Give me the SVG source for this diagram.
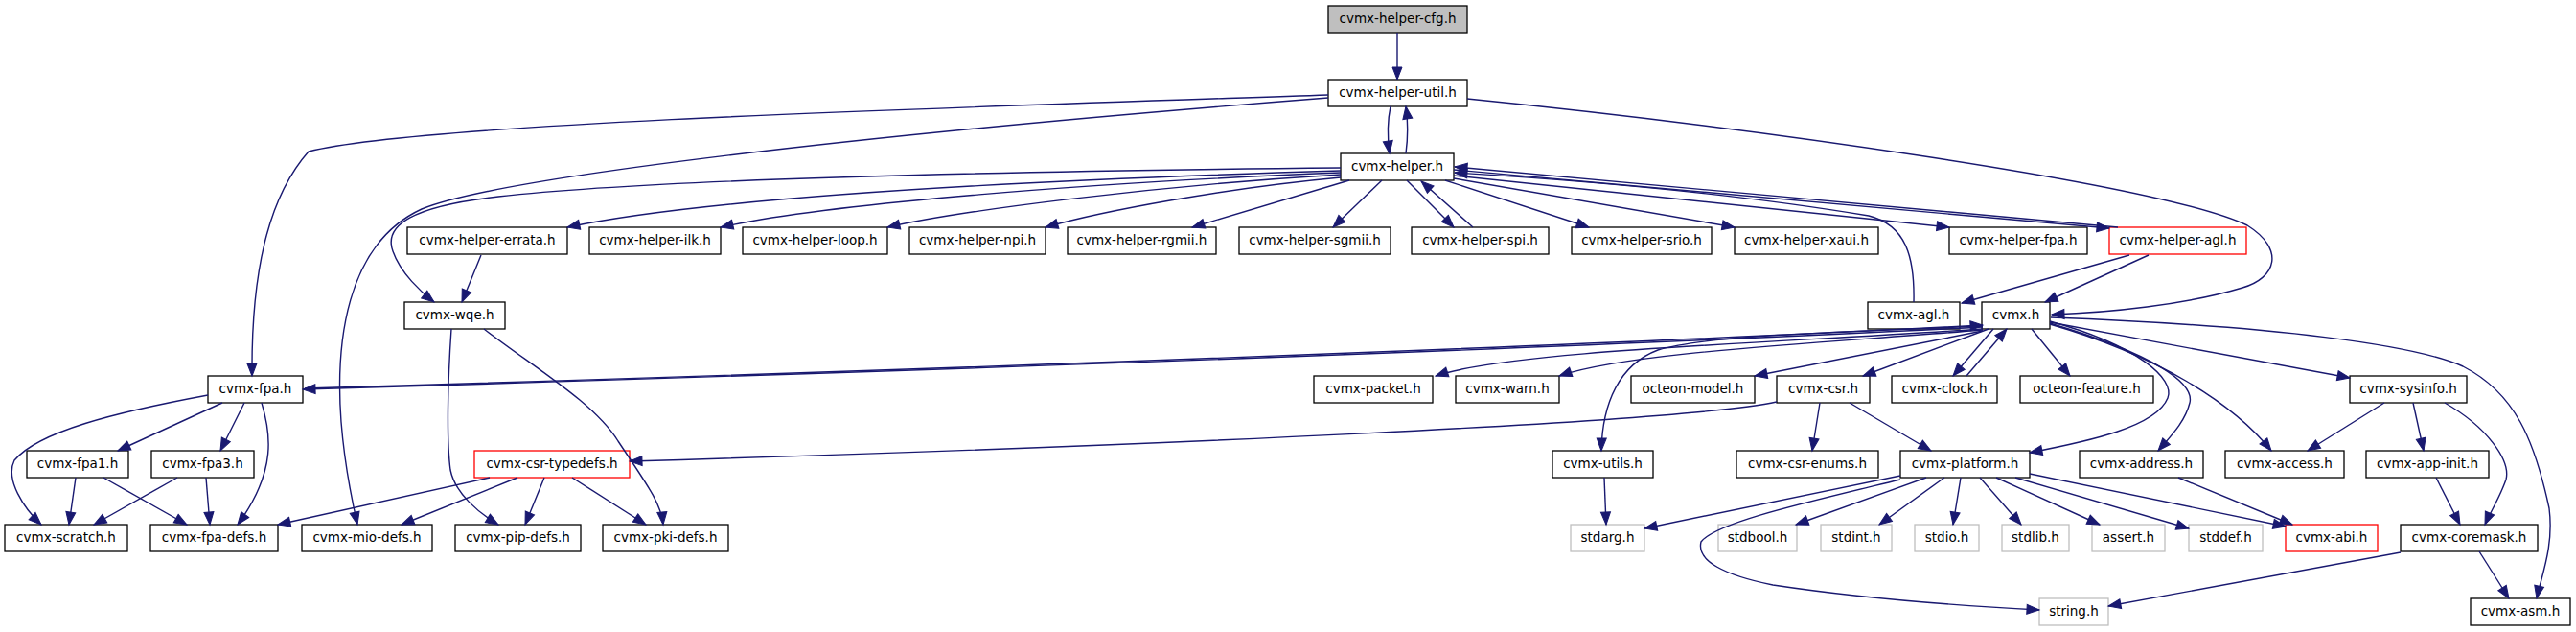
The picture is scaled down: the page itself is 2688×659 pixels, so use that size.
<svg xmlns="http://www.w3.org/2000/svg" width="2688" height="659" viewBox="0 0 2688 659">
<defs>
<style>
.n rect{fill:#fff;stroke:#000;stroke-width:1.3}
.n.gr rect{stroke:#bfbfbf}
.n.rd rect{stroke:#ff0000}
.n.cur rect{fill:#bfbfbf}
.n text{font-family:"DejaVu Sans",sans-serif;font-size:13.5px;text-anchor:middle;fill:#000}
#edges path{fill:none;stroke:#191970;stroke-width:1.4;marker-end:url(#a)}
</style>
<marker id="a" markerUnits="userSpaceOnUse" markerWidth="14" markerHeight="11" refX="13" refY="5" orient="auto" overflow="visible">
<path d="M0,0 L13,5 L0,10 z" fill="#191970" stroke="#191970" stroke-width="1"/>
</marker>
</defs>
<rect width="2688" height="659" fill="#fff"/>
<g id="nodes">
<g id="n-cfg" class="n cur"><rect x="1386" y="6" width="145" height="28"/><text x="1458.5" y="24">cvmx-helper-cfg.h</text></g>
<g id="n-util" class="n"><rect x="1386" y="83" width="145" height="28"/><text x="1458.5" y="101">cvmx-helper-util.h</text></g>
<g id="n-helper" class="n"><rect x="1399" y="160" width="118" height="28"/><text x="1458" y="178">cvmx-helper.h</text></g>
<g id="n-errata" class="n"><rect x="425" y="237" width="167" height="28"/><text x="508.5" y="255">cvmx-helper-errata.h</text></g>
<g id="n-ilk" class="n"><rect x="615" y="237" width="137" height="28"/><text x="683.5" y="255">cvmx-helper-ilk.h</text></g>
<g id="n-loop" class="n"><rect x="775" y="237" width="151" height="28"/><text x="850.5" y="255">cvmx-helper-loop.h</text></g>
<g id="n-npi" class="n"><rect x="949" y="237" width="142" height="28"/><text x="1020" y="255">cvmx-helper-npi.h</text></g>
<g id="n-rgmii" class="n"><rect x="1114" y="237" width="155" height="28"/><text x="1191.5" y="255">cvmx-helper-rgmii.h</text></g>
<g id="n-sgmii" class="n"><rect x="1293" y="237" width="158" height="28"/><text x="1372" y="255">cvmx-helper-sgmii.h</text></g>
<g id="n-spi" class="n"><rect x="1473" y="237" width="143" height="28"/><text x="1544.5" y="255">cvmx-helper-spi.h</text></g>
<g id="n-srio" class="n"><rect x="1640" y="237" width="146" height="28"/><text x="1713" y="255">cvmx-helper-srio.h</text></g>
<g id="n-xaui" class="n"><rect x="1810" y="237" width="150" height="28"/><text x="1885" y="255">cvmx-helper-xaui.h</text></g>
<g id="n-hfpa" class="n"><rect x="2034" y="237" width="144" height="28"/><text x="2106" y="255">cvmx-helper-fpa.h</text></g>
<g id="n-hagl" class="n rd"><rect x="2201" y="237" width="143" height="28"/><text x="2272.5" y="255">cvmx-helper-agl.h</text></g>
<g id="n-wqe" class="n"><rect x="422" y="315" width="105" height="28"/><text x="474.5" y="333">cvmx-wqe.h</text></g>
<g id="n-agl" class="n"><rect x="1949" y="315" width="96" height="28"/><text x="1997" y="333">cvmx-agl.h</text></g>
<g id="n-cvmx" class="n"><rect x="2068" y="315" width="71" height="28"/><text x="2103.5" y="333">cvmx.h</text></g>
<g id="n-fpa" class="n"><rect x="217" y="392" width="99" height="28"/><text x="266.5" y="410">cvmx-fpa.h</text></g>
<g id="n-packet" class="n"><rect x="1371" y="392" width="124" height="28"/><text x="1433" y="410">cvmx-packet.h</text></g>
<g id="n-warn" class="n"><rect x="1519" y="392" width="108" height="28"/><text x="1573" y="410">cvmx-warn.h</text></g>
<g id="n-model" class="n"><rect x="1702" y="392" width="129" height="28"/><text x="1766.5" y="410">octeon-model.h</text></g>
<g id="n-csr" class="n"><rect x="1854" y="392" width="97" height="28"/><text x="1902.5" y="410">cvmx-csr.h</text></g>
<g id="n-clock" class="n"><rect x="1974" y="392" width="110" height="28"/><text x="2029" y="410">cvmx-clock.h</text></g>
<g id="n-feature" class="n"><rect x="2108" y="392" width="139" height="28"/><text x="2177.5" y="410">octeon-feature.h</text></g>
<g id="n-sysinfo" class="n"><rect x="2452" y="392" width="122" height="28"/><text x="2513" y="410">cvmx-sysinfo.h</text></g>
<g id="n-fpa1" class="n"><rect x="28" y="470" width="106" height="28"/><text x="81" y="488">cvmx-fpa1.h</text></g>
<g id="n-fpa3" class="n"><rect x="158" y="470" width="107" height="28"/><text x="211.5" y="488">cvmx-fpa3.h</text></g>
<g id="n-typedefs" class="n rd"><rect x="495" y="470" width="162" height="28"/><text x="576" y="488">cvmx-csr-typedefs.h</text></g>
<g id="n-utils" class="n"><rect x="1620" y="470" width="105" height="28"/><text x="1672.5" y="488">cvmx-utils.h</text></g>
<g id="n-enums" class="n"><rect x="1812" y="470" width="148" height="28"/><text x="1886" y="488">cvmx-csr-enums.h</text></g>
<g id="n-platform" class="n"><rect x="1983" y="470" width="135" height="28"/><text x="2050.5" y="488">cvmx-platform.h</text></g>
<g id="n-address" class="n"><rect x="2170" y="470" width="129" height="28"/><text x="2234.5" y="488">cvmx-address.h</text></g>
<g id="n-access" class="n"><rect x="2322" y="470" width="124" height="28"/><text x="2384" y="488">cvmx-access.h</text></g>
<g id="n-appinit" class="n"><rect x="2469" y="470" width="128" height="28"/><text x="2533" y="488">cvmx-app-init.h</text></g>
<g id="n-scratch" class="n"><rect x="5" y="547" width="128" height="28"/><text x="69" y="565">cvmx-scratch.h</text></g>
<g id="n-fpadefs" class="n"><rect x="157" y="547" width="133" height="28"/><text x="223.5" y="565">cvmx-fpa-defs.h</text></g>
<g id="n-mio" class="n"><rect x="315" y="547" width="136" height="28"/><text x="383" y="565">cvmx-mio-defs.h</text></g>
<g id="n-pip" class="n"><rect x="475" y="547" width="131" height="28"/><text x="540.5" y="565">cvmx-pip-defs.h</text></g>
<g id="n-pki" class="n"><rect x="629" y="547" width="131" height="28"/><text x="694.5" y="565">cvmx-pki-defs.h</text></g>
<g id="n-stdarg" class="n gr"><rect x="1639" y="547" width="77" height="28"/><text x="1677.5" y="565">stdarg.h</text></g>
<g id="n-stdbool" class="n gr"><rect x="1793" y="547" width="82" height="28"/><text x="1834" y="565">stdbool.h</text></g>
<g id="n-stdint" class="n gr"><rect x="1900" y="547" width="74" height="28"/><text x="1937" y="565">stdint.h</text></g>
<g id="n-stdio" class="n gr"><rect x="1998" y="547" width="67" height="28"/><text x="2031.5" y="565">stdio.h</text></g>
<g id="n-stdlib" class="n gr"><rect x="2089" y="547" width="70" height="28"/><text x="2124" y="565">stdlib.h</text></g>
<g id="n-assert" class="n gr"><rect x="2183" y="547" width="76" height="28"/><text x="2221" y="565">assert.h</text></g>
<g id="n-stddef" class="n gr"><rect x="2284" y="547" width="77" height="28"/><text x="2322.5" y="565">stddef.h</text></g>
<g id="n-abi" class="n rd"><rect x="2385" y="547" width="96" height="28"/><text x="2433" y="565">cvmx-abi.h</text></g>
<g id="n-coremask" class="n"><rect x="2505" y="547" width="143" height="28"/><text x="2576.5" y="565">cvmx-coremask.h</text></g>
<g id="n-string" class="n gr"><rect x="2128" y="624" width="72" height="28"/><text x="2164" y="642">string.h</text></g>
<g id="n-asm" class="n"><rect x="2578" y="624" width="104" height="28"/><text x="2630" y="642">cvmx-asm.h</text></g>
</g>
<g id="edges">
<path d="M1458,34 L1458,83"/>
<path d="M1451,111 C1448,125 1448,145 1450,160"/>
<path d="M1467,160 C1469,145 1469,125 1467,111"/>
<path d="M1386,99 C1000,112 440,128 322,158 C285,200 262,270 263,392"/>
<path d="M1386,102 C900,140 520,185 440,218 C360,255 350,360 356,440 C360,490 368,525 373,547"/>
<path d="M1531,103 C1800,130 2250,190 2345,235 C2385,260 2375,290 2340,300 C2280,318 2200,326 2141,328"/>
<path d="M1399,175 C1100,178 700,185 520,205 C430,215 400,235 410,262 C418,285 440,305 453,315"/>
<path d="M1399,178 C1000,190 720,210 592,237"/>
<path d="M1399,180 C1100,192 850,215 752,237"/>
<path d="M1399,182 C1200,194 1000,220 926,237"/>
<path d="M1399,185 C1280,196 1150,220 1091,237"/>
<path d="M1408,188 L1244,237"/>
<path d="M1442,188 L1391,237"/>
<path d="M1468,188 L1517,237"/>
<path d="M1537,237 L1483,189"/>
<path d="M1508,188 L1658,237"/>
<path d="M1517,186 L1810,237"/>
<path d="M1517,183 L2034,237"/>
<path d="M1517,177 L2201,238"/>
<path d="M2210,237 L1518,174"/>
<path d="M1997,315 C1998,270 1990,235 1950,225 C1800,200 1650,188 1518,180"/>
<path d="M2222,266 L2047,316"/>
<path d="M2242,266 L2134,315"/>
<path d="M502,266 L482,315"/>
<path d="M471,343 C467,400 466,460 470,490 C475,515 500,535 520,547"/>
<path d="M505,343 C560,385 620,420 645,460 C675,505 690,525 692,547"/>
<path d="M2069,341 C1800,355 1200,380 316,406"/>
<path d="M318,405 C1200,379 1800,353 2069,339"/>
<path d="M217,412 C120,430 40,450 15,480 C5,500 25,530 43,547"/>
<path d="M232,420 L123,470"/>
<path d="M255,420 L230,470"/>
<path d="M273,420 C282,450 290,490 248,547"/>
<path d="M79,498 L72,547"/>
<path d="M108,498 L195,547"/>
<path d="M185,498 L98,547"/>
<path d="M215,498 L219,547"/>
<path d="M2069,343 C1850,358 1580,365 1498,392"/>
<path d="M2069,344 C1900,358 1700,367 1627,392"/>
<path d="M2069,345 L1831,392"/>
<path d="M2075,343 L1944,392"/>
<path d="M2080,343 L2038,392"/>
<path d="M2052,392 L2094,343"/>
<path d="M2120,343 L2160,392"/>
<path d="M2139,336 L2452,394"/>
<path d="M2069,340 C1900,347 1780,350 1730,365 C1690,380 1672,420 1671,470"/>
<path d="M2139,335 C2230,360 2270,395 2262,415 C2250,445 2180,460 2118,472"/>
<path d="M2139,337 C2250,370 2290,400 2285,420 C2280,440 2265,455 2252,470"/>
<path d="M2139,338 C2250,370 2330,420 2370,470"/>
<path d="M2140,331 C2380,340 2520,360 2570,382 C2625,410 2645,460 2660,530 C2665,570 2652,600 2647,624"/>
<path d="M1854,419 C1760,440 1200,465 657,481"/>
<path d="M1899,420 L1891,470"/>
<path d="M1930,420 L2015,470"/>
<path d="M1674,498 L1676,547"/>
<path d="M1983,496 L1716,551"/>
<path d="M1983,500 C1880,525 1790,545 1775,565 C1770,585 1800,600 1850,610 C1950,625 2050,632 2128,636"/>
<path d="M2010,498 L1874,547"/>
<path d="M2029,498 L1961,547"/>
<path d="M2046,498 L2038,547"/>
<path d="M2066,498 L2109,547"/>
<path d="M2083,498 L2191,547"/>
<path d="M2103,498 L2284,551"/>
<path d="M2118,494 L2385,549"/>
<path d="M2273,498 L2392,547"/>
<path d="M2488,420 L2408,470"/>
<path d="M2518,420 L2529,470"/>
<path d="M2551,420 C2595,445 2620,480 2615,500 C2608,520 2598,535 2593,547"/>
<path d="M2542,498 L2567,547"/>
<path d="M2505,576 L2200,632"/>
<path d="M2587,575 L2618,624"/>
<path d="M511,498 L290,547"/>
<path d="M540,498 L419,547"/>
<path d="M568,498 L548,547"/>
<path d="M597,498 L674,547"/>
</g>
</svg>
